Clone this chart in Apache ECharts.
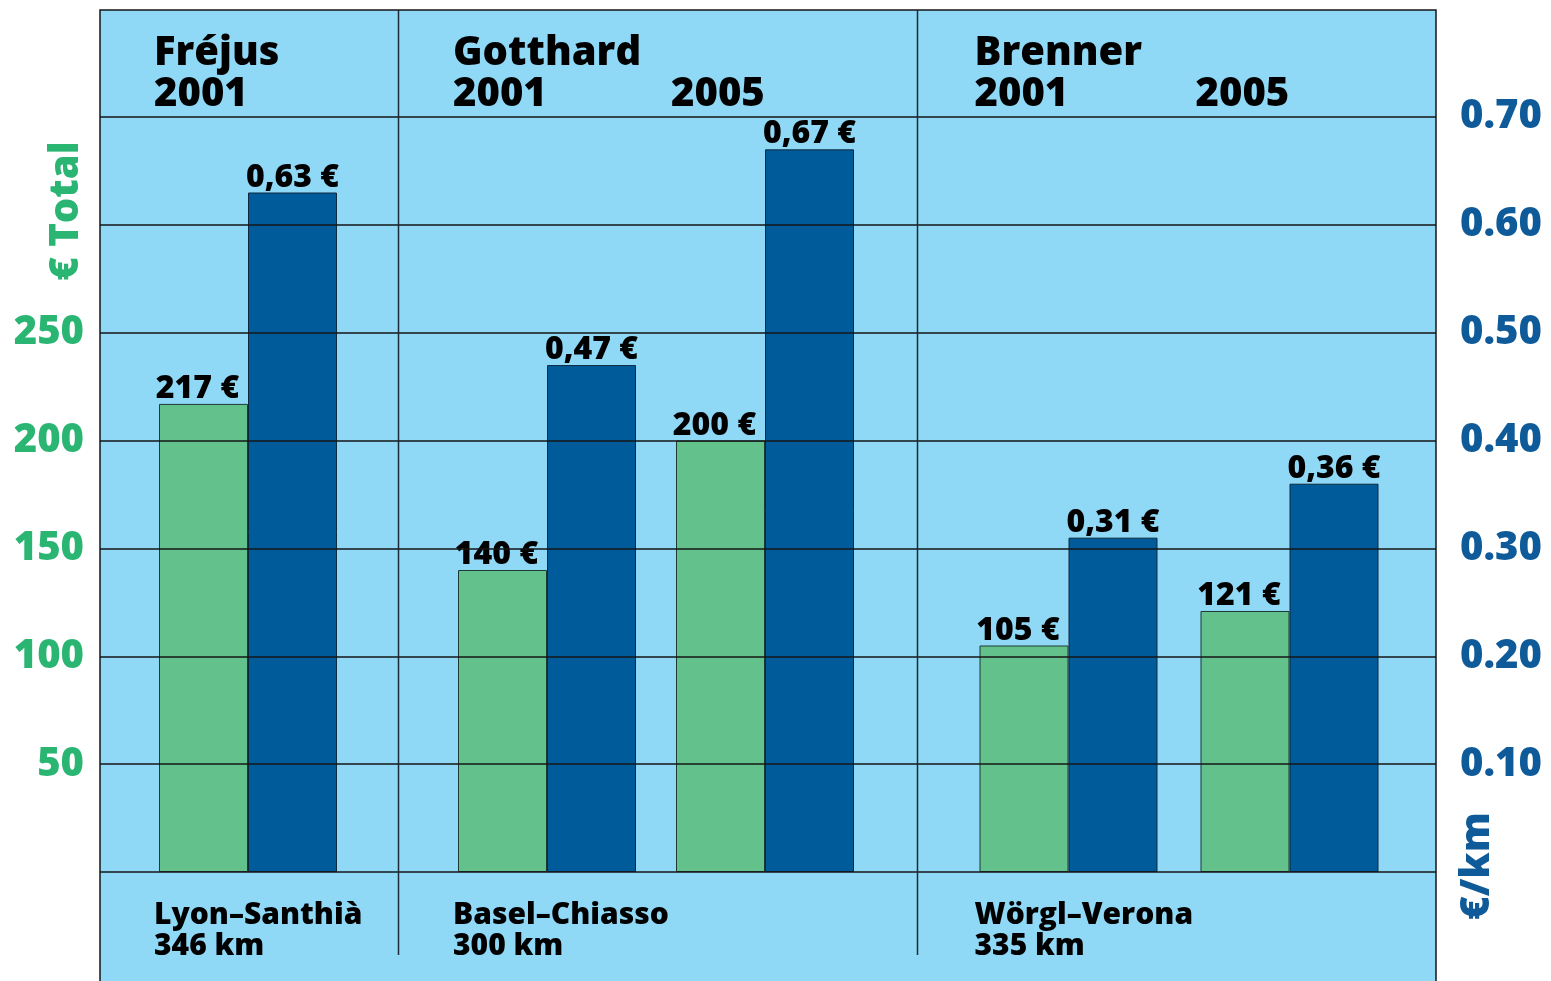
<!DOCTYPE html>
<html>
<head>
<meta charset="utf-8">
<title>Tunnel tolls</title>
<script src="https://cdn.jsdelivr.net/npm/echarts@6/dist/echarts.min.js"></script>
<style>
  html, body { margin: 0; padding: 0; background: #fff; }
  #chart { width: 1551px; height: 981px; }
</style>
</head>
<body>
<div id="chart"></div>
<script>
// data
const tunnels = ['Fréjus', 'Gotthard', 'Brenner'];
const years = [['2001'], ['2001', '2005'], ['2001', '2005']];
const totalCost = [[217], [140, 200], [105, 121]];
const costPerKm = [[0.63], [0.47, 0.67], [0.31, 0.36]];
const routes = ['Lyon–Santhià', 'Basel–Chiasso', 'Wörgl–Verona'];
const distances = ['346 km', '300 km', '335 km'];
const totalTicks = [50, 100, 150, 200, 250];
const perKmTicks = [0.1, 0.2, 0.3, 0.4, 0.5, 0.6, 0.7];

const FONT = '"Open Sans", "DejaVu Sans", sans-serif';
const WEIGHT = 800;
const GREEN = '#63c18b';
const BLUE = '#005b9b';
const GREEN_TXT = '#2bb573';
const BLUE_TXT = '#0f5b99';
const PANEL = '#8fd8f6';
const LINE = '#161616';
const BAR_W = 89;

// layout of the plot
const plotTop = 117, plotHeight = 755, plotLeft = 100, plotWidth = 1336;
const groupGrids = [
  { left: 100, width: 296 },
  { left: 438, width: 436 },
  { left: 958, width: 442 }
];

const chart = echarts.init(document.getElementById('chart'));

const grids = [{ left: plotLeft, width: plotWidth, top: plotTop, height: plotHeight }];
const xAxes = [{ gridIndex: 0, type: 'value', min: 0, max: 1, show: false }];
const yAxes = [
  {
    gridIndex: 0, type: 'value', position: 'left', min: 0, max: 350, interval: 50, z: 10,
    axisLine: { show: false }, axisTick: { show: false },
    splitLine: { show: true, lineStyle: { color: LINE, width: 1.5 } },
    axisLabel: {
      margin: 16, color: GREEN_TXT, fontFamily: FONT, fontWeight: WEIGHT, fontSize: 40,
      formatter: (v) => (totalTicks.indexOf(v) >= 0 ? String(v) : '')
    }
  },
  {
    gridIndex: 0, type: 'value', position: 'right', min: 0, max: 0.7, interval: 0.1,
    axisLine: { show: false }, axisTick: { show: false }, splitLine: { show: false },
    axisLabel: {
      margin: 24, color: BLUE_TXT, fontFamily: FONT, fontWeight: WEIGHT, fontSize: 40,
      formatter: (v) => (perKmTicks.some((t) => Math.abs(t - v) < 1e-6) ? v.toFixed(2) : '')
    }
  }
];
const series = [];

tunnels.forEach((name, i) => {
  grids.push({ left: groupGrids[i].left, width: groupGrids[i].width, top: plotTop, height: plotHeight });
  xAxes.push({ gridIndex: i + 1, type: 'category', data: years[i], show: false });
  yAxes.push({ gridIndex: i + 1, type: 'value', min: 0, max: 350, show: false });
  yAxes.push({ gridIndex: i + 1, type: 'value', min: 0, max: 0.7, show: false });
  series.push({
    name: name + ' total',
    type: 'bar',
    xAxisIndex: i + 1,
    yAxisIndex: 2 + i * 2,
    data: totalCost[i],
    barWidth: BAR_W,
    barGap: '0%',
    itemStyle: { color: GREEN, borderColor: '#1e3a34', borderWidth: 1 },
    label: {
      show: true, position: 'top', distance: -1, offset: [-6, 0],
      color: '#000', fontFamily: FONT, fontWeight: WEIGHT, fontSize: 32,
      formatter: (p) => p.value + ' €'
    }
  });
  series.push({
    name: name + ' €/km',
    type: 'bar',
    xAxisIndex: i + 1,
    yAxisIndex: 3 + i * 2,
    data: costPerKm[i],
    barWidth: BAR_W,
    barGap: '0%',
    itemStyle: { color: BLUE, borderColor: '#0d2a3c', borderWidth: 1 },
    label: {
      show: true, position: 'top', distance: -1,
      color: '#000', fontFamily: FONT, fontWeight: WEIGHT, fontSize: 32,
      formatter: (p) => p.value.toFixed(2).replace('.', ',') + ' €'
    }
  });
});

chart.setOption({
  animation: false,
  backgroundColor: '#fff',
  grid: grids,
  xAxis: xAxes,
  yAxis: yAxes,
  series: series
});

// texts and dividers placed from the category positions
const center = (g, k) => chart.convertToPixel({ xAxisIndex: g + 1 }, years[g][k]);
const txt = (text, x, y, size, color, extra) => Object.assign({
  type: 'text', x: x, y: y, z: 20,
  style: { text: text, fill: color, font: WEIGHT + ' ' + size + 'px ' + FONT, align: 'left', verticalAlign: 'middle' }
}, extra || {});

const graphics = [{
  type: 'rect', z: -10,
  shape: { x: plotLeft, y: 10, width: plotWidth, height: 1000 },
  style: { fill: PANEL, stroke: LINE, lineWidth: 1.5 }
}];

tunnels.forEach((name, g) => {
  const left = center(g, 0) - BAR_W - 5;
  graphics.push(txt(name, left, 54, 40, '#000'));
  years[g].forEach((y, k) => {
    graphics.push(txt(y, center(g, k) - BAR_W - 5, 95, 40, '#000'));
  });
  graphics.push(txt(routes[g], left, 915, 30, '#000'));
  graphics.push(txt(distances[g], left, 946, 30, '#000'));
  if (g < tunnels.length - 1) {
    const a = center(g, years[g].length - 1) + BAR_W;
    const b = center(g + 1, 0) - BAR_W;
    const x = Math.round((a + b) / 2) + 0.5;
    graphics.push({
      type: 'line', z: 15,
      shape: { x1: x, y1: 10, x2: x, y2: 955 },
      style: { stroke: '#1c2a36', lineWidth: 1.5 }
    });
  }
});

graphics.push(txt('€ Total', 67, 211, 40, GREEN_TXT, {
  rotation: Math.PI / 2,
  style: { text: '€ Total', fill: GREEN_TXT, font: WEIGHT + ' 40px ' + FONT, align: 'center', verticalAlign: 'middle' }
}));
graphics.push(txt('€/km', 1478, 866, 40, BLUE_TXT, {
  rotation: Math.PI / 2,
  style: { text: '€/km', fill: BLUE_TXT, font: WEIGHT + ' 40px ' + FONT, align: 'center', verticalAlign: 'middle' }
}));

chart.setOption({ graphic: graphics });
</script>
</body>
</html>
